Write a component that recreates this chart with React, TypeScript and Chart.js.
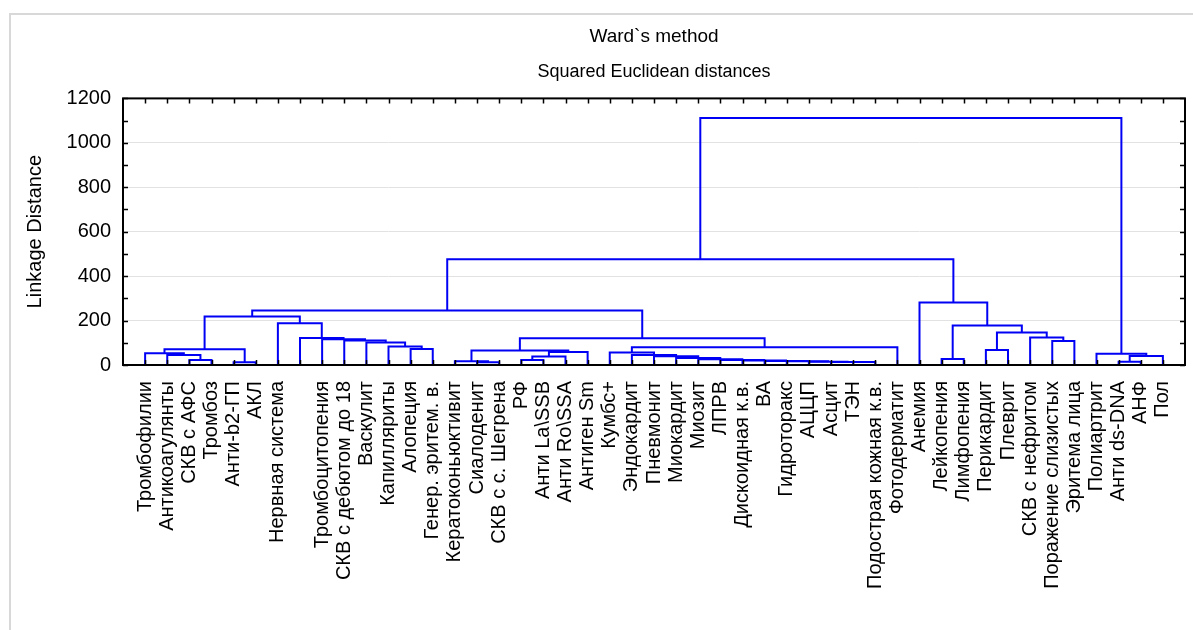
import React, { useEffect, useRef } from "react";
import { Chart, registerables } from "chart.js";

Chart.register(...registerables);

// ---- Data ----
const chartTitle = "Ward`s method";
const chartSubtitle = "Squared Euclidean distances";
const yAxisTitle = "Linkage Distance";

// Leaves in dendrogram order (one slot has no name in the source)
const leafLabels: string[] = [
  "Тромбофилии",
  "Антикоагулянты",
  "СКВ с АФС",
  "Тромбоз",
  "Анти-b2-ГП",
  "АКЛ",
  "Нервная система",
  "",
  "Тромбоцитопения",
  "СКВ с дебютом до 18",
  "Васкулит",
  "Капилляриты",
  "Алопеция",
  "Генер. эритем. в.",
  "Кератоконьюктивит",
  "Сиалоденит",
  "СКВ с с. Шегрена",
  "РФ",
  "Анти La\\SSB",
  "Анти Ro\\SSA",
  "Антиген Sm",
  "Кумбс+",
  "Эндокардит",
  "Пневмонит",
  "Миокардит",
  "Миозит",
  "ЛПРВ",
  "Дискоидная к.в.",
  "ВА",
  "Гидроторакс",
  "АЦЦП",
  "Асцит",
  "ТЭН",
  "Подострая кожная к.в.",
  "Фотодерматит",
  "Анемия",
  "Лейкопения",
  "Лимфопения",
  "Перикардит",
  "Плеврит",
  "СКВ с нефритом",
  "Поражение слизистых",
  "Эритема лица",
  "Полиартрит",
  "Анти ds-DNA",
  "АНФ",
  "Пол",
];

// Merges: node ids 0..46 are leaves, merge k creates node 47 + k
const mergeLeft: number[] = [
  2, 1, 0, 4, 49, 12, 11, 10, 9, 8, 7, 6, 51,
  15, 14, 17, 62, 63, 61,
  32, 31, 30, 29, 28, 27, 26, 25, 24, 23, 22, 21, 77, 65, 59,
  36, 38, 41, 40, 82, 81, 35, 80,
  44, 89, 43, 88,
];
const mergeRight: number[] = [
  3, 47, 48, 5, 50, 13, 52, 53, 54, 55, 56, 57, 58,
  16, 60, 18, 19, 20, 64,
  33, 66, 67, 68, 69, 70, 71, 72, 73, 74, 75, 76, 34, 78, 79,
  37, 39, 42, 83, 84, 85, 86, 87,
  45, 46, 90, 91,
];
const mergeHeight: number[] = [
  22, 45, 53, 12, 71, 72, 83, 101, 110, 116, 122, 188, 218,
  12, 17, 22, 38, 58, 65,
  13, 14, 15, 17, 18, 20, 23, 26, 32, 39, 45, 56, 80, 120, 245,
  27, 68, 108, 124, 146, 178, 281, 476,
  15, 40, 51, 1112,
];

const yMin = 0;
const yMax = 1200;
const yStep = 200;
const yMinorStep = 100;

const FONT = "'Liberation Sans', Arial, sans-serif";
const LINE_COLOR = "#0000f5";

function buildDatasets() {
  const xs: number[] = leafLabels.map((_, i) => i + 1);
  const hs: number[] = leafLabels.map(() => 0);
  const ds: any[] = [];
  mergeLeft.forEach((l, k) => {
    const r = mergeRight[k];
    const h = mergeHeight[k];
    ds.push({
      data: [
        { x: xs[l], y: hs[l] },
        { x: xs[l], y: h },
        { x: xs[r], y: h },
        { x: xs[r], y: hs[r] },
      ],
      showLine: true,
      borderColor: LINE_COLOR,
      backgroundColor: LINE_COLOR,
      borderWidth: 2,
      pointRadius: 0,
      fill: false,
      tension: 0,
    });
    xs.push((xs[l] + xs[r]) / 2);
    hs.push(h);
  });
  return ds;
}

const framePlugin = {
  id: "frameTicks",
  afterDatasetsDraw(chart: any) {
    const { ctx, chartArea: a, scales } = chart;
    const x = scales.x;
    const y = scales.y;
    ctx.save();
    ctx.strokeStyle = "#000";
    ctx.lineWidth = 1.5;
    ctx.beginPath();
    leafLabels.forEach((_, i) => {
      const px = Math.round(x.getPixelForValue(i + 1)) + 0.5;
      ctx.moveTo(px, a.top);
      ctx.lineTo(px, a.top + 5);
      ctx.moveTo(px, a.bottom);
      ctx.lineTo(px, a.bottom - 5);
    });
    for (let v = yMin; v <= yMax; v += yMinorStep) {
      const py = Math.round(y.getPixelForValue(v)) + 0.5;
      ctx.moveTo(a.left, py);
      ctx.lineTo(a.left + 5, py);
      ctx.moveTo(a.right, py);
      ctx.lineTo(a.right - 5, py);
    }
    ctx.stroke();
    ctx.lineWidth = 2;
    ctx.strokeRect(a.left, a.top, a.right - a.left, a.bottom - a.top);
    ctx.restore();
  },
};

export default function App() {
  const ref = useRef<HTMLCanvasElement>(null);

  useEffect(() => {
    const canvas = ref.current;
    if (!canvas) return;
    const font = { family: FONT, size: 20, weight: "normal" as const };
    const chart = new Chart(canvas, {
      type: "scatter",
      data: { datasets: buildDatasets() },
      options: {
        responsive: false,
        animation: false,
        devicePixelRatio: 1,
        layout: { padding: { left: 0, right: 8, top: 0, bottom: 0 } },
        plugins: {
          legend: { display: false },
          tooltip: { enabled: false },
          title: {
            display: true,
            text: chartTitle,
            fullSize: false,
            color: "#000",
            font: { family: FONT, size: 19, weight: "normal" as const },
            padding: { top: 25, bottom: 0 },
          },
          subtitle: {
            display: true,
            text: chartSubtitle,
            fullSize: false,
            color: "#000",
            font: { family: FONT, size: 18, weight: "normal" as const },
            padding: { top: 13, bottom: 16 },
          },
        },
        scales: {
          x: {
            type: "linear",
            min: 0,
            max: leafLabels.length + 1,
            grid: { display: false },
            border: { display: false },
            afterBuildTicks: (s: any) => {
              s.ticks = leafLabels.map((_, i) => ({ value: i + 1 }));
            },
            afterFit: (s: any) => {
              s.height = 265;
              s.paddingLeft = 0;
              s.paddingRight = 0;
            },
            ticks: {
              autoSkip: false,
              minRotation: 90,
              maxRotation: 90,
              padding: 8,
              color: "#000",
              font,
              callback: (v: any) => leafLabels[Math.round(Number(v)) - 1] ?? "",
            },
          },
          y: {
            min: yMin,
            max: yMax,
            grid: { color: "#e2e2e2", drawTicks: false, lineWidth: 1 },
            border: { display: false },
            afterFit: (s: any) => {
              s.width = 123;
              s.paddingTop = 0;
              s.paddingBottom = 0;
            },
            ticks: {
              stepSize: yStep,
              padding: 12,
              color: "#000",
              font,
              callback: (v: any) => String(v),
            },
            title: {
              display: true,
              text: yAxisTitle,
              color: "#000",
              font,
              padding: { top: 23, bottom: 0 },
            },
          },
        },
      },
      plugins: [framePlugin],
    });
    return () => chart.destroy();
  }, []);

  return (
    <div
      style={{
        position: "fixed",
        left: 0,
        top: 0,
        width: 1193,
        height: 630,
        background: "#fff",
        overflow: "hidden",
      }}
    >
      <div
        style={{
          position: "absolute",
          left: 9,
          top: 13,
          width: 1200,
          height: 640,
          borderTop: "2px solid #d8d8d8",
          borderLeft: "2px solid #d8d8d8",
        }}
      />
      <canvas
        ref={ref}
        width={1193}
        height={630}
        style={{ position: "absolute", left: 0, top: 0, width: 1193, height: 630 }}
      />
    </div>
  );
}
